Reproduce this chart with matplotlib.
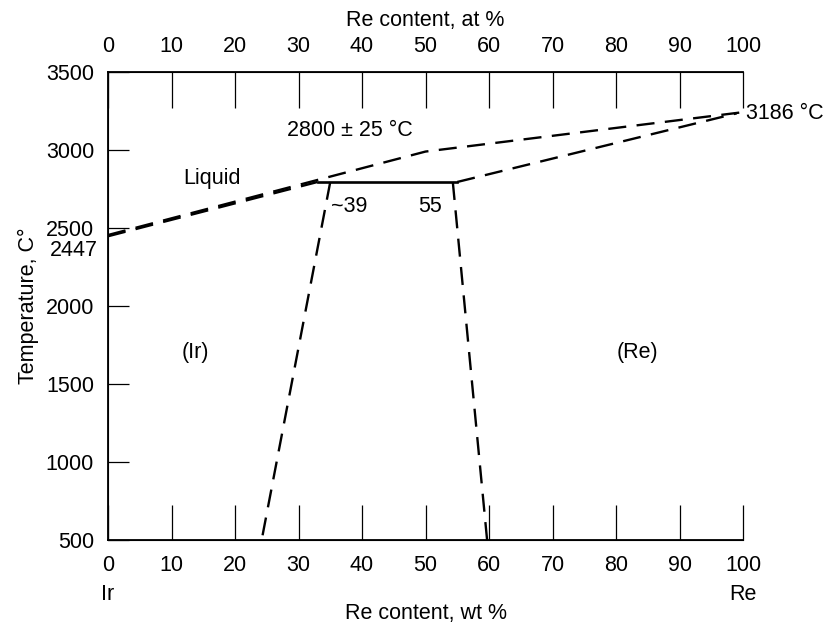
import matplotlib
matplotlib.use("Agg")
import matplotlib.pyplot as plt

plt.rcParams['font.family'] = ['Liberation Sans', 'DejaVu Sans']
plt.rcParams['lines.scale_dashes'] = False

# ---- data (wt % Re, temperature °C) ----
liquidus_wt = [0, 50, 99.5]
liquidus_T = [2455, 2990, 3240]
solidus_ir_wt = [0, 33]
solidus_ir_T = [2447, 2795]
peritectic_wt = [33, 55]
peritectic_T = [2795, 2795]
solidus_re_wt = [55, 99]
solidus_re_T = [2795, 3235]
solvus_ir_wt = [35, 24.2]
solvus_ir_T = [2795, 500]
solvus_re_wt = [54.3, 59.7]
solvus_re_T = [2795, 500]

x_ticks = [0, 10, 20, 30, 40, 50, 60, 70, 80, 90, 100]
x_tick_labels = [str(v) for v in x_ticks]
top_ticks = [0, 10, 20, 30, 40, 50, 60, 70, 80, 90, 100]
top_tick_labels = [str(v) for v in top_ticks]
y_ticks = [500, 1000, 1500, 2000, 2500, 3000, 3500]
y_tick_labels = [str(v) for v in y_ticks]

W, H = 830, 635
fig = plt.figure(figsize=(W / 100, H / 100), dpi=100)
ax = fig.add_axes([108 / W, 1 - 540 / H, (743 - 108) / W, (540 - 72) / H])
ax.set_xlim(0, 100)
ax.set_ylim(500, 3500)

dash = dict(color='black', lw=1.7, linestyle=(0, (13, 7.5)))
ax.plot(liquidus_wt, liquidus_T, **dash)
ax.plot(solidus_ir_wt, solidus_ir_T, **dash)
ax.plot(solidus_re_wt, solidus_re_T, **dash)
ax.plot(solvus_ir_wt, solvus_ir_T, **dash)
ax.plot(solvus_re_wt, solvus_re_T, **dash)
ax.plot(peritectic_wt, peritectic_T, color='black', lw=1.9)

for s in ['left', 'bottom', 'top']:
    ax.spines[s].set_linewidth(1.3)
ax.spines['right'].set_visible(False)

fs = 15.5
ax.set_xticks(x_ticks)
ax.set_xticklabels(x_tick_labels, fontsize=fs)
ax.set_yticks(y_ticks)
ax.set_yticklabels(y_tick_labels, fontsize=fs)
ax.tick_params(axis='x', direction='in', length=25, width=0.9, pad=11)
ax.tick_params(axis='y', direction='in', length=15, width=0.9, pad=10)
ax.set_ylabel('Temperature, C°', fontsize=fs, labelpad=5)

top = ax.twiny()
top.set_xlim(0, 100)
top.set_xticks(top_ticks)
top.set_xticklabels(top_tick_labels, fontsize=fs)
top.tick_params(axis='x', direction='in', length=26, width=0.9, pad=11)
top.spines['right'].set_visible(False)
top.set_xlabel('Re content, at %', fontsize=fs, labelpad=7)

# bottom labels
ax.text(0.5, (540 - 613) / 468, 'Re content, wt %', transform=ax.transAxes,
        ha='center', va='center', fontsize=fs)
ax.text(0, (540 - 595) / 468, 'Ir', transform=ax.transAxes, ha='center', va='center', fontsize=fs)
ax.text(1, (540 - 595) / 468, 'Re', transform=ax.transAxes, ha='center', va='center', fontsize=fs)

# extra labels
ax.annotate('2447', xy=(0, 2447), xytext=(-7.5, -10.5), textcoords='offset points',
            ha='right', va='center', fontsize=fs, annotation_clip=False)
ax.text(16.4, 2820, 'Liquid', ha='center', va='center', fontsize=fs)
ax.text(28.2, 3128, '2800 ± 25 °C', ha='left', va='center', fontsize=fs)
ax.text(38.0, 2640, '~39', ha='center', va='center', fontsize=fs)
ax.text(50.7, 2640, '55', ha='center', va='center', fontsize=fs)
ax.text(100.4, 3231, '3186 °C', ha='left', va='center', fontsize=fs)
ax.text(13.7, 1700, '(Ir)', ha='center', va='center', fontsize=fs)
ax.text(83.3, 1700, '(Re)', ha='center', va='center', fontsize=fs)

fig.savefig('out.png', dpi=100)
